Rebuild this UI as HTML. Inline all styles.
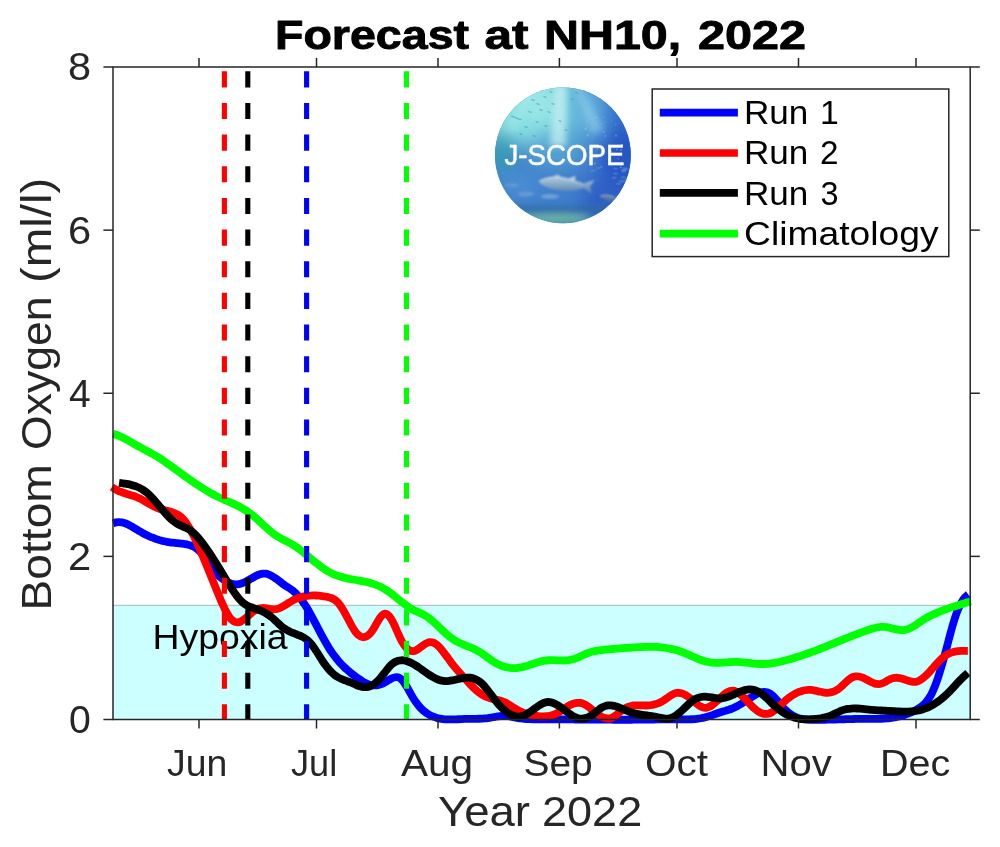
<!DOCTYPE html>
<html><head><meta charset="utf-8"><title>Forecast at NH10, 2022</title>
<style>html,body{margin:0;padding:0;background:#fff;}body{width:1000px;height:847px;overflow:hidden;font-family:"Liberation Sans",sans-serif;}svg{display:block;will-change:transform;}text{font-family:"Liberation Sans",sans-serif;}</style>
</head><body>
<svg width="1000" height="847" viewBox="0 0 1000 847">
<defs><filter id="idf" filterUnits="userSpaceOnUse" x="0" y="0" width="1000" height="847"><feOffset dx="0" dy="0"/></filter></defs>
<g filter="url(#idf)">
<rect x="0" y="0" width="1000" height="847" fill="#ffffff"/>
<rect x="113.00" y="605.31" width="857.20" height="114.19" fill="#ccffff"/>
<line x1="113.00" y1="605.31" x2="970.20" y2="605.31" stroke="#a2baba" stroke-width="1.0"/>
<text x="152.50" y="649.00" font-size="35.00" fill="#000" textLength="135.07" lengthAdjust="spacingAndGlyphs">Hypoxia</text>
<path d="M113.01 523.27 C113.51 523.12 115.01 522.52 116.01 522.33 C117.01 522.13 118.01 522.06 119.01 522.08 C120.01 522.10 121.01 522.24 122.01 522.44 C123.01 522.64 124.01 522.95 125.01 523.30 C126.01 523.65 127.01 524.08 128.01 524.55 C129.01 525.02 130.01 525.55 131.01 526.10 C132.01 526.65 133.01 527.25 134.01 527.84 C135.01 528.44 136.01 529.07 137.01 529.68 C138.01 530.28 139.01 530.91 140.01 531.49 C141.01 532.08 142.01 532.66 143.01 533.20 C144.01 533.75 145.01 534.27 146.01 534.77 C147.01 535.26 148.01 535.74 149.01 536.19 C150.01 536.63 151.01 537.06 152.01 537.46 C153.01 537.87 154.01 538.25 155.01 538.60 C156.01 538.96 157.01 539.29 158.01 539.61 C159.01 539.92 160.01 540.21 161.01 540.48 C162.01 540.75 163.01 541.00 164.01 541.22 C165.01 541.45 166.01 541.66 167.01 541.84 C168.01 542.03 169.01 542.19 170.01 542.34 C171.01 542.49 172.01 542.61 173.01 542.73 C174.01 542.85 175.01 542.95 176.01 543.06 C177.01 543.17 178.01 543.26 179.01 543.37 C180.01 543.48 181.01 543.59 182.01 543.71 C183.01 543.84 184.01 543.97 185.01 544.13 C186.01 544.29 187.01 544.44 188.01 544.68 C189.01 544.91 190.01 545.16 191.01 545.53 C192.01 545.89 193.01 546.30 194.01 546.85 C195.01 547.40 196.01 548.04 197.01 548.84 C198.01 549.63 199.01 550.56 200.01 551.63 C201.01 552.69 202.01 553.89 203.01 555.22 C204.01 556.54 205.01 558.06 206.01 559.57 C207.01 561.08 208.01 562.78 209.01 564.26 C210.01 565.74 211.01 567.15 212.01 568.45 C213.01 569.75 214.01 570.94 215.01 572.05 C216.01 573.16 217.01 574.17 218.01 575.12 C219.01 576.07 220.01 576.94 221.01 577.75 C222.01 578.57 223.01 579.33 224.01 580.01 C225.01 580.69 226.01 581.32 227.01 581.86 C228.01 582.39 229.01 582.86 230.01 583.24 C231.01 583.61 232.01 583.91 233.01 584.11 C234.01 584.30 235.01 584.41 236.01 584.41 C237.01 584.41 238.01 584.30 239.01 584.11 C240.01 583.91 241.01 583.61 242.01 583.25 C243.01 582.90 244.01 582.45 245.01 581.98 C246.01 581.51 247.01 580.96 248.01 580.41 C249.01 579.87 250.01 579.26 251.01 578.69 C252.01 578.12 253.01 577.51 254.01 576.97 C255.01 576.42 256.01 575.88 257.01 575.43 C258.01 574.97 259.01 574.55 260.01 574.25 C261.01 573.95 262.01 573.70 263.01 573.61 C264.01 573.52 265.01 573.54 266.01 573.69 C267.01 573.85 268.01 574.16 269.01 574.55 C270.01 574.93 271.01 575.45 272.01 576.02 C273.01 576.58 274.01 577.25 275.01 577.94 C276.01 578.62 277.01 579.39 278.01 580.14 C279.01 580.89 280.01 581.70 281.01 582.46 C282.01 583.22 283.01 583.99 284.01 584.70 C285.01 585.41 286.01 586.06 287.01 586.72 C288.01 587.38 289.01 587.96 290.01 588.65 C291.01 589.33 292.01 590.01 293.01 590.82 C294.01 591.63 295.01 592.53 296.01 593.52 C297.01 594.52 298.01 595.61 299.01 596.79 C300.01 597.97 301.01 599.25 302.01 600.62 C303.01 601.98 304.01 603.44 305.01 604.98 C306.01 606.52 307.01 608.16 308.01 609.85 C309.01 611.54 310.01 613.32 311.01 615.12 C312.01 616.92 313.01 618.79 314.01 620.66 C315.01 622.54 316.01 624.45 317.01 626.35 C318.01 628.25 319.01 630.18 320.01 632.06 C321.01 633.95 322.01 635.84 323.01 637.67 C324.01 639.50 325.01 641.31 326.01 643.04 C327.01 644.77 328.01 646.46 329.01 648.06 C330.01 649.65 331.01 651.17 332.01 652.62 C333.01 654.06 334.01 655.43 335.01 656.73 C336.01 658.04 337.01 659.27 338.01 660.45 C339.01 661.64 340.01 662.75 341.01 663.82 C342.01 664.89 343.01 665.90 344.01 666.87 C345.01 667.85 346.01 668.77 347.01 669.66 C348.01 670.55 349.01 671.39 350.01 672.22 C351.01 673.04 352.01 673.82 353.01 674.59 C354.01 675.36 355.01 676.10 356.01 676.83 C357.01 677.55 358.01 678.27 359.01 678.96 C360.01 679.64 361.01 680.32 362.01 680.94 C363.01 681.56 364.01 682.16 365.01 682.68 C366.01 683.20 367.01 683.68 368.01 684.07 C369.01 684.46 370.01 684.80 371.01 685.02 C372.01 685.25 373.01 685.40 374.01 685.44 C375.01 685.48 376.01 685.41 377.01 685.27 C378.01 685.12 379.01 684.88 380.01 684.57 C381.01 684.25 382.01 683.84 383.01 683.38 C384.01 682.91 385.01 682.33 386.01 681.76 C387.01 681.18 388.01 680.49 389.01 679.90 C390.01 679.32 391.01 678.69 392.01 678.25 C393.01 677.80 394.01 677.39 395.01 677.24 C396.01 677.08 397.01 677.03 398.01 677.32 C399.01 677.60 400.01 678.10 401.01 678.95 C402.01 679.79 403.01 681.02 404.01 682.38 C405.01 683.74 406.01 685.43 407.01 687.11 C408.01 688.79 409.01 690.68 410.01 692.44 C411.01 694.21 412.01 696.05 413.01 697.69 C414.01 699.32 415.01 700.86 416.01 702.27 C417.01 703.67 418.01 704.95 419.01 706.13 C420.01 707.31 421.01 708.36 422.01 709.33 C423.01 710.31 424.01 711.17 425.01 711.95 C426.01 712.74 427.01 713.43 428.01 714.05 C429.01 714.68 430.01 715.21 431.01 715.70 C432.01 716.18 433.01 716.59 434.01 716.96 C435.01 717.32 436.01 717.63 437.01 717.90 C438.01 718.17 439.01 718.39 440.01 718.58 C441.01 718.77 442.01 718.92 443.01 719.04 C444.01 719.16 445.01 719.25 446.01 719.31 C447.01 719.38 448.01 719.42 449.01 719.44 C450.01 719.46 451.01 719.46 452.01 719.44 C453.01 719.43 454.01 719.40 455.01 719.37 C456.01 719.33 457.01 719.28 458.01 719.24 C459.01 719.19 460.01 719.14 461.01 719.09 C462.01 719.05 463.01 719.00 464.01 718.97 C465.01 718.93 466.01 718.91 467.01 718.89 C468.01 718.87 469.01 718.86 470.01 718.85 C471.01 718.84 472.01 718.84 473.01 718.83 C474.01 718.82 475.01 718.82 476.01 718.80 C477.01 718.79 478.01 718.77 479.01 718.74 C480.01 718.71 481.01 718.67 482.01 718.62 C483.01 718.56 484.01 718.49 485.01 718.40 C486.01 718.31 487.01 718.20 488.01 718.07 C489.01 717.94 490.01 717.77 491.01 717.60 C492.01 717.43 493.01 717.23 494.01 717.05 C495.01 716.86 496.01 716.67 497.01 716.50 C498.01 716.34 499.01 716.17 500.01 716.06 C501.01 715.95 502.01 715.85 503.01 715.83 C504.01 715.80 505.01 715.82 506.01 715.89 C507.01 715.96 508.01 716.10 509.01 716.26 C510.01 716.42 511.01 716.63 512.01 716.83 C513.01 717.03 514.01 717.26 515.01 717.46 C516.01 717.66 517.01 717.87 518.01 718.04 C519.01 718.21 520.01 718.36 521.01 718.49 C522.01 718.61 523.01 718.72 524.01 718.81 C525.01 718.91 526.01 718.98 527.01 719.04 C528.01 719.10 529.01 719.15 530.01 719.19 C531.01 719.22 532.01 719.25 533.01 719.27 C534.01 719.29 535.01 719.30 536.01 719.30 C537.01 719.31 538.01 719.31 539.01 719.31 C540.01 719.31 541.01 719.31 542.01 719.31 C543.01 719.31 544.01 719.31 545.01 719.31 C546.01 719.32 547.01 719.32 548.01 719.32 C549.01 719.32 550.01 719.33 551.01 719.33 C552.01 719.33 553.01 719.34 554.01 719.34 C555.01 719.35 556.01 719.35 557.01 719.36 C558.01 719.36 559.01 719.37 560.01 719.37 C561.01 719.38 562.01 719.38 563.01 719.39 C564.01 719.40 565.01 719.40 566.01 719.41 C567.01 719.42 568.01 719.42 569.01 719.43 C570.01 719.44 571.01 719.45 572.01 719.45 C573.01 719.46 574.01 719.47 575.01 719.48 C576.01 719.48 577.01 719.49 578.01 719.50 C579.01 719.51 580.01 719.52 581.01 719.52 C582.01 719.53 583.01 719.54 584.01 719.55 C585.01 719.56 586.01 719.56 587.01 719.57 C588.01 719.58 589.01 719.59 590.01 719.60 C591.01 719.60 592.01 719.61 593.01 719.62 C594.01 719.63 595.01 719.63 596.01 719.64 C597.01 719.65 598.01 719.65 599.01 719.66 C600.01 719.67 601.01 719.67 602.01 719.68 C603.01 719.69 604.01 719.69 605.01 719.70 C606.01 719.70 607.01 719.71 608.01 719.71 C609.01 719.72 610.01 719.72 611.01 719.72 C612.01 719.73 613.01 719.73 614.01 719.73 C615.01 719.74 616.01 719.74 617.01 719.74 C618.01 719.74 619.01 719.74 620.01 719.75 C621.01 719.75 622.01 719.75 623.01 719.75 C624.01 719.75 625.01 719.74 626.01 719.74 C627.01 719.74 628.01 719.74 629.01 719.74 C630.01 719.73 631.01 719.73 632.01 719.73 C633.01 719.72 634.01 719.72 635.01 719.71 C636.01 719.70 637.01 719.70 638.01 719.69 C639.01 719.68 640.01 719.67 641.01 719.66 C642.01 719.65 643.01 719.64 644.01 719.63 C645.01 719.62 646.01 719.61 647.01 719.60 C648.01 719.58 649.01 719.57 650.01 719.56 C651.01 719.54 652.01 719.52 653.01 719.51 C654.01 719.49 655.01 719.48 656.01 719.46 C657.01 719.44 658.01 719.43 659.01 719.41 C660.01 719.40 661.01 719.38 662.01 719.37 C663.01 719.35 664.01 719.34 665.01 719.33 C666.01 719.32 667.01 719.31 668.01 719.30 C669.01 719.29 670.01 719.29 671.01 719.29 C672.01 719.28 673.01 719.28 674.01 719.28 C675.01 719.29 676.01 719.29 677.01 719.30 C678.01 719.31 679.01 719.33 680.01 719.34 C681.01 719.35 682.01 719.36 683.01 719.37 C684.01 719.38 685.01 719.38 686.01 719.38 C687.01 719.37 688.01 719.36 689.01 719.34 C690.01 719.31 691.01 719.28 692.01 719.23 C693.01 719.18 694.01 719.11 695.01 719.03 C696.01 718.94 697.01 718.84 698.01 718.71 C699.01 718.58 700.01 718.43 701.01 718.25 C702.01 718.07 703.01 717.87 704.01 717.63 C705.01 717.39 706.01 717.12 707.01 716.83 C708.01 716.54 709.01 716.21 710.01 715.88 C711.01 715.55 712.01 715.19 713.01 714.84 C714.01 714.48 715.01 714.12 716.01 713.76 C717.01 713.41 718.01 713.05 719.01 712.72 C720.01 712.38 721.01 712.06 722.01 711.76 C723.01 711.45 724.01 711.18 725.01 710.88 C726.01 710.59 727.01 710.31 728.01 709.99 C729.01 709.67 730.01 709.36 731.01 708.98 C732.01 708.60 733.01 708.20 734.01 707.74 C735.01 707.28 736.01 706.77 737.01 706.23 C738.01 705.69 739.01 705.10 740.01 704.50 C741.01 703.91 742.01 703.27 743.01 702.64 C744.01 702.00 745.01 701.35 746.01 700.70 C747.01 700.05 748.01 699.39 749.01 698.75 C750.01 698.11 751.01 697.47 752.01 696.86 C753.01 696.25 754.01 695.65 755.01 695.10 C756.01 694.55 757.01 694.00 758.01 693.54 C759.01 693.08 760.01 692.63 761.01 692.33 C762.01 692.04 763.01 691.81 764.01 691.79 C765.01 691.77 766.01 691.90 767.01 692.20 C768.01 692.51 769.01 693.00 770.01 693.62 C771.01 694.25 772.01 695.05 773.01 695.95 C774.01 696.85 775.01 697.93 776.01 699.03 C777.01 700.13 778.01 701.37 779.01 702.56 C780.01 703.75 781.01 705.02 782.01 706.18 C783.01 707.34 784.01 708.50 785.01 709.52 C786.01 710.54 787.01 711.47 788.01 712.31 C789.01 713.15 790.01 713.88 791.01 714.54 C792.01 715.19 793.01 715.76 794.01 716.26 C795.01 716.77 796.01 717.19 797.01 717.56 C798.01 717.92 799.01 718.22 800.01 718.48 C801.01 718.73 802.01 718.93 803.01 719.09 C804.01 719.26 805.01 719.37 806.01 719.47 C807.01 719.57 808.01 719.62 809.01 719.67 C810.01 719.72 811.01 719.74 812.01 719.76 C813.01 719.78 814.01 719.78 815.01 719.79 C816.01 719.80 817.01 719.80 818.01 719.80 C819.01 719.80 820.01 719.79 821.01 719.79 C822.01 719.78 823.01 719.77 824.01 719.76 C825.01 719.74 826.01 719.73 827.01 719.71 C828.01 719.69 829.01 719.67 830.01 719.64 C831.01 719.62 832.01 719.60 833.01 719.57 C834.01 719.55 835.01 719.52 836.01 719.49 C837.01 719.46 838.01 719.43 839.01 719.40 C840.01 719.37 841.01 719.34 842.01 719.32 C843.01 719.29 844.01 719.26 845.01 719.23 C846.01 719.20 847.01 719.17 848.01 719.14 C849.01 719.11 850.01 719.09 851.01 719.06 C852.01 719.04 853.01 719.01 854.01 718.99 C855.01 718.97 856.01 718.95 857.01 718.93 C858.01 718.91 859.01 718.90 860.01 718.88 C861.01 718.87 862.01 718.86 863.01 718.86 C864.01 718.85 865.01 718.85 866.01 718.85 C867.01 718.85 868.01 718.85 869.01 718.86 C870.01 718.86 871.01 718.86 872.01 718.86 C873.01 718.86 874.01 718.86 875.01 718.86 C876.01 718.85 877.01 718.84 878.01 718.82 C879.01 718.80 880.01 718.78 881.01 718.74 C882.01 718.71 883.01 718.66 884.01 718.60 C885.01 718.54 886.01 718.47 887.01 718.38 C888.01 718.30 889.01 718.20 890.01 718.08 C891.01 717.96 892.01 717.82 893.01 717.66 C894.01 717.50 895.01 717.33 896.01 717.13 C897.01 716.93 898.01 716.71 899.01 716.46 C900.01 716.22 901.01 715.95 902.01 715.66 C903.01 715.37 904.01 715.05 905.01 714.71 C906.01 714.37 907.01 714.01 908.01 713.62 C909.01 713.22 910.01 712.81 911.01 712.36 C912.01 711.91 913.01 711.44 914.01 710.94 C915.01 710.43 916.01 709.91 917.01 709.34 C918.01 708.77 919.01 708.20 920.01 707.52 C921.01 706.83 922.01 706.12 923.01 705.24 C924.01 704.35 925.01 703.40 926.01 702.22 C927.01 701.05 928.01 699.76 929.01 698.20 C930.01 696.65 931.01 694.92 932.01 692.90 C933.01 690.87 934.01 688.58 935.01 686.06 C936.01 683.53 937.01 680.72 938.01 677.74 C939.01 674.76 940.01 671.53 941.01 668.19 C942.01 664.84 943.01 661.29 944.01 657.66 C945.01 654.04 946.01 650.21 947.01 646.44 C948.01 642.67 949.01 638.76 950.01 635.06 C951.01 631.36 952.01 627.63 953.01 624.23 C954.01 620.84 955.01 617.54 956.01 614.68 C957.01 611.82 958.01 609.28 959.01 607.07 C960.01 604.86 961.01 603.05 962.01 601.44 C963.01 599.83 964.01 598.54 965.01 597.41 C966.01 596.27 967.47 595.11 968.01 594.61 C968.55 594.12 968.21 594.46 968.25 594.43" fill="none" stroke="#0000ff" stroke-width="7.8" stroke-linejoin="round" stroke-linecap="butt"/>
<path d="M112.01 487.03 C112.51 487.37 114.01 488.43 115.01 489.04 C116.01 489.64 117.01 490.16 118.01 490.65 C119.01 491.14 120.01 491.56 121.01 491.96 C122.01 492.36 123.01 492.71 124.01 493.05 C125.01 493.39 126.01 493.69 127.01 494.00 C128.01 494.31 129.01 494.59 130.01 494.89 C131.01 495.20 132.01 495.49 133.01 495.82 C134.01 496.14 135.01 496.47 136.01 496.85 C137.01 497.23 138.01 497.63 139.01 498.08 C140.01 498.53 141.01 499.04 142.01 499.58 C143.01 500.11 144.01 500.70 145.01 501.29 C146.01 501.88 147.01 502.51 148.01 503.11 C149.01 503.71 150.01 504.33 151.01 504.90 C152.01 505.47 153.01 506.04 154.01 506.54 C155.01 507.04 156.01 507.51 157.01 507.91 C158.01 508.32 159.01 508.66 160.01 508.97 C161.01 509.29 162.01 509.56 163.01 509.82 C164.01 510.08 165.01 510.30 166.01 510.54 C167.01 510.78 168.01 511.00 169.01 511.26 C170.01 511.51 171.01 511.76 172.01 512.09 C173.01 512.41 174.01 512.76 175.01 513.21 C176.01 513.66 177.01 514.16 178.01 514.80 C179.01 515.43 180.01 516.15 181.01 517.03 C182.01 517.91 183.01 518.91 184.01 520.09 C185.01 521.26 186.01 522.61 187.01 524.09 C188.01 525.57 189.01 527.21 190.01 528.95 C191.01 530.69 192.01 532.58 193.01 534.53 C194.01 536.49 195.01 538.57 196.01 540.69 C197.01 542.82 198.01 545.04 199.01 547.29 C200.01 549.55 201.01 551.88 202.01 554.24 C203.01 556.60 204.01 559.01 205.01 561.44 C206.01 563.86 207.01 566.33 208.01 568.80 C209.01 571.26 210.01 573.75 211.01 576.23 C212.01 578.71 213.01 581.20 214.01 583.66 C215.01 586.13 216.01 588.59 217.01 591.02 C218.01 593.45 219.01 595.88 220.01 598.23 C221.01 600.59 222.01 602.97 223.01 605.16 C224.01 607.35 225.01 609.51 226.01 611.39 C227.01 613.26 228.01 614.99 229.01 616.42 C230.01 617.85 231.01 619.03 232.01 619.95 C233.01 620.87 234.01 621.53 235.01 621.92 C236.01 622.32 237.01 622.41 238.01 622.33 C239.01 622.24 240.01 621.86 241.01 621.39 C242.01 620.91 243.01 620.22 244.01 619.48 C245.01 618.75 246.01 617.86 247.01 616.99 C248.01 616.13 249.01 615.17 250.01 614.30 C251.01 613.43 252.01 612.52 253.01 611.76 C254.01 611.00 255.01 610.28 256.01 609.74 C257.01 609.20 258.01 608.81 259.01 608.52 C260.01 608.24 261.01 608.10 262.01 608.03 C263.01 607.97 264.01 608.04 265.01 608.13 C266.01 608.23 267.01 608.44 268.01 608.60 C269.01 608.77 270.01 609.00 271.01 609.13 C272.01 609.27 273.01 609.41 274.01 609.40 C275.01 609.39 276.01 609.30 277.01 609.07 C278.01 608.84 279.01 608.46 280.01 608.03 C281.01 607.60 282.01 607.04 283.01 606.47 C284.01 605.90 285.01 605.24 286.01 604.61 C287.01 603.97 288.01 603.28 289.01 602.65 C290.01 602.02 291.01 601.38 292.01 600.82 C293.01 600.26 294.01 599.75 295.01 599.29 C296.01 598.83 297.01 598.42 298.01 598.06 C299.01 597.70 300.01 597.38 301.01 597.11 C302.01 596.83 303.01 596.59 304.01 596.39 C305.01 596.19 306.01 596.02 307.01 595.88 C308.01 595.75 309.01 595.64 310.01 595.57 C311.01 595.49 312.01 595.45 313.01 595.44 C314.01 595.42 315.01 595.44 316.01 595.48 C317.01 595.52 318.01 595.59 319.01 595.68 C320.01 595.78 321.01 595.89 322.01 596.04 C323.01 596.18 324.01 596.34 325.01 596.53 C326.01 596.72 327.01 596.92 328.01 597.16 C329.01 597.40 330.01 597.61 331.01 597.97 C332.01 598.34 333.01 598.72 334.01 599.34 C335.01 599.95 336.01 600.70 337.01 601.67 C338.01 602.64 339.01 603.84 340.01 605.17 C341.01 606.51 342.01 608.05 343.01 609.70 C344.01 611.34 345.01 613.20 346.01 615.05 C347.01 616.90 348.01 618.91 349.01 620.80 C350.01 622.68 351.01 624.64 352.01 626.37 C353.01 628.10 354.01 629.80 355.01 631.19 C356.01 632.59 357.01 633.80 358.01 634.72 C359.01 635.65 360.01 636.32 361.01 636.74 C362.01 637.15 363.01 637.32 364.01 637.23 C365.01 637.14 366.01 636.80 367.01 636.21 C368.01 635.62 369.01 634.77 370.01 633.67 C371.01 632.57 372.01 631.14 373.01 629.61 C374.01 628.08 375.01 626.19 376.01 624.48 C377.01 622.77 378.01 620.87 379.01 619.35 C380.01 617.84 381.01 616.32 382.01 615.39 C383.01 614.45 384.01 613.80 385.01 613.72 C386.01 613.64 387.01 614.10 388.01 614.91 C389.01 615.71 390.01 617.02 391.01 618.57 C392.01 620.13 393.01 622.17 394.01 624.24 C395.01 626.32 396.01 628.77 397.01 631.01 C398.01 633.24 399.01 635.63 400.01 637.67 C401.01 639.71 402.01 641.61 403.01 643.23 C404.01 644.85 405.01 646.26 406.01 647.40 C407.01 648.54 408.01 649.45 409.01 650.09 C410.01 650.72 411.01 651.08 412.01 651.19 C413.01 651.29 414.01 651.06 415.01 650.72 C416.01 650.37 417.01 649.74 418.01 649.11 C419.01 648.48 420.01 647.66 421.01 646.93 C422.01 646.19 423.01 645.37 424.01 644.71 C425.01 644.05 426.01 643.41 427.01 642.98 C428.01 642.55 429.01 642.20 430.01 642.12 C431.01 642.03 432.01 642.13 433.01 642.46 C434.01 642.79 435.01 643.39 436.01 644.10 C437.01 644.82 438.01 645.75 439.01 646.76 C440.01 647.76 441.01 648.94 442.01 650.15 C443.01 651.37 444.01 652.71 445.01 654.05 C446.01 655.38 447.01 656.80 448.01 658.18 C449.01 659.55 450.01 660.96 451.01 662.29 C452.01 663.62 453.01 664.92 454.01 666.16 C455.01 667.40 456.01 668.58 457.01 669.74 C458.01 670.90 459.01 672.02 460.01 673.13 C461.01 674.25 462.01 675.33 463.01 676.43 C464.01 677.53 465.01 678.64 466.01 679.73 C467.01 680.83 468.01 681.94 469.01 683.01 C470.01 684.08 471.01 685.15 472.01 686.16 C473.01 687.17 474.01 688.16 475.01 689.08 C476.01 690.01 477.01 690.88 478.01 691.69 C479.01 692.50 480.01 693.25 481.01 693.93 C482.01 694.62 483.01 695.24 484.01 695.79 C485.01 696.35 486.01 696.83 487.01 697.25 C488.01 697.67 489.01 698.00 490.01 698.30 C491.01 698.60 492.01 698.81 493.01 699.04 C494.01 699.26 495.01 699.43 496.01 699.64 C497.01 699.85 498.01 700.04 499.01 700.28 C500.01 700.53 501.01 700.79 502.01 701.14 C503.01 701.49 504.01 701.90 505.01 702.38 C506.01 702.86 507.01 703.44 508.01 704.04 C509.01 704.63 510.01 705.30 511.01 705.94 C512.01 706.58 513.01 707.27 514.01 707.89 C515.01 708.52 516.01 709.15 517.01 709.71 C518.01 710.27 519.01 710.79 520.01 711.27 C521.01 711.75 522.01 712.18 523.01 712.58 C524.01 712.98 525.01 713.34 526.01 713.66 C527.01 713.99 528.01 714.28 529.01 714.54 C530.01 714.80 531.01 715.02 532.01 715.22 C533.01 715.41 534.01 715.58 535.01 715.72 C536.01 715.86 537.01 715.98 538.01 716.07 C539.01 716.16 540.01 716.23 541.01 716.28 C542.01 716.32 543.01 716.35 544.01 716.33 C545.01 716.31 546.01 716.27 547.01 716.16 C548.01 716.06 549.01 715.92 550.01 715.72 C551.01 715.51 552.01 715.25 553.01 714.92 C554.01 714.58 555.01 714.18 556.01 713.70 C557.01 713.22 558.01 712.65 559.01 712.05 C560.01 711.45 561.01 710.77 562.01 710.11 C563.01 709.45 564.01 708.75 565.01 708.10 C566.01 707.45 567.01 706.79 568.01 706.22 C569.01 705.64 570.01 705.10 571.01 704.65 C572.01 704.20 573.01 703.80 574.01 703.51 C575.01 703.21 576.01 702.99 577.01 702.89 C578.01 702.78 579.01 702.76 580.01 702.88 C581.01 702.99 582.01 703.21 583.01 703.57 C584.01 703.93 585.01 704.45 586.01 705.05 C587.01 705.64 588.01 706.39 589.01 707.16 C590.01 707.92 591.01 708.79 592.01 709.62 C593.01 710.45 594.01 711.34 595.01 712.15 C596.01 712.96 597.01 713.77 598.01 714.47 C599.01 715.18 600.01 715.84 601.01 716.39 C602.01 716.94 603.01 717.42 604.01 717.76 C605.01 718.10 606.01 718.35 607.01 718.45 C608.01 718.54 609.01 718.51 610.01 718.31 C611.01 718.10 612.01 717.72 613.01 717.21 C614.01 716.70 615.01 715.97 616.01 715.23 C617.01 714.50 618.01 713.61 619.01 712.79 C620.01 711.97 621.01 711.07 622.01 710.31 C623.01 709.56 624.01 708.83 625.01 708.25 C626.01 707.67 627.01 707.20 628.01 706.82 C629.01 706.43 630.01 706.16 631.01 705.94 C632.01 705.71 633.01 705.58 634.01 705.48 C635.01 705.38 636.01 705.35 637.01 705.33 C638.01 705.31 639.01 705.34 640.01 705.36 C641.01 705.38 642.01 705.43 643.01 705.46 C644.01 705.48 645.01 705.51 646.01 705.50 C647.01 705.48 648.01 705.45 649.01 705.37 C650.01 705.28 651.01 705.15 652.01 704.97 C653.01 704.79 654.01 704.57 655.01 704.28 C656.01 704.00 657.01 703.67 658.01 703.28 C659.01 702.88 660.01 702.44 661.01 701.92 C662.01 701.41 663.01 700.83 664.01 700.19 C665.01 699.56 666.01 698.82 667.01 698.13 C668.01 697.43 669.01 696.67 670.01 696.01 C671.01 695.35 672.01 694.69 673.01 694.19 C674.01 693.70 675.01 693.26 676.01 693.03 C677.01 692.79 678.01 692.72 679.01 692.78 C680.01 692.84 681.01 693.07 682.01 693.39 C683.01 693.71 684.01 694.17 685.01 694.71 C686.01 695.24 687.01 695.89 688.01 696.59 C689.01 697.29 690.01 698.09 691.01 698.90 C692.01 699.72 693.01 700.62 694.01 701.48 C695.01 702.33 696.01 703.25 697.01 704.03 C698.01 704.81 699.01 705.59 700.01 706.18 C701.01 706.77 702.01 707.28 703.01 707.55 C704.01 707.82 705.01 707.90 706.01 707.80 C707.01 707.69 708.01 707.36 709.01 706.93 C710.01 706.50 711.01 705.88 712.01 705.19 C713.01 704.51 714.01 703.69 715.01 702.84 C716.01 702.00 717.01 701.05 718.01 700.13 C719.01 699.20 720.01 698.21 721.01 697.29 C722.01 696.38 723.01 695.43 724.01 694.62 C725.01 693.80 726.01 693.02 727.01 692.41 C728.01 691.80 729.01 691.27 730.01 690.97 C731.01 690.68 732.01 690.54 733.01 690.62 C734.01 690.70 735.01 691.02 736.01 691.46 C737.01 691.90 738.01 692.54 739.01 693.26 C740.01 693.98 741.01 694.86 742.01 695.78 C743.01 696.70 744.01 697.74 745.01 698.78 C746.01 699.82 747.01 700.94 748.01 702.02 C749.01 703.09 750.01 704.21 751.01 705.24 C752.01 706.27 753.01 707.31 754.01 708.21 C755.01 709.12 756.01 709.97 757.01 710.68 C758.01 711.40 759.01 712.01 760.01 712.49 C761.01 712.98 762.01 713.35 763.01 713.59 C764.01 713.83 765.01 713.96 766.01 713.94 C767.01 713.93 768.01 713.80 769.01 713.52 C770.01 713.24 771.01 712.83 772.01 712.28 C773.01 711.74 774.01 711.02 775.01 710.25 C776.01 709.48 777.01 708.57 778.01 707.65 C779.01 706.74 780.01 705.74 781.01 704.78 C782.01 703.82 783.01 702.83 784.01 701.92 C785.01 701.00 786.01 700.12 787.01 699.30 C788.01 698.47 789.01 697.70 790.01 696.98 C791.01 696.26 792.01 695.59 793.01 694.98 C794.01 694.36 795.01 693.80 796.01 693.29 C797.01 692.78 798.01 692.33 799.01 691.94 C800.01 691.54 801.01 691.20 802.01 690.92 C803.01 690.64 804.01 690.41 805.01 690.25 C806.01 690.08 807.01 689.97 808.01 689.93 C809.01 689.88 810.01 689.89 811.01 689.97 C812.01 690.04 813.01 690.19 814.01 690.36 C815.01 690.53 816.01 690.77 817.01 691.00 C818.01 691.23 819.01 691.50 820.01 691.73 C821.01 691.96 822.01 692.20 823.01 692.37 C824.01 692.54 825.01 692.70 826.01 692.75 C827.01 692.81 828.01 692.81 829.01 692.71 C830.01 692.60 831.01 692.41 832.01 692.12 C833.01 691.83 834.01 691.45 835.01 690.96 C836.01 690.48 837.01 689.90 838.01 689.22 C839.01 688.53 840.01 687.72 841.01 686.86 C842.01 686.00 843.01 684.99 844.01 684.04 C845.01 683.09 846.01 682.06 847.01 681.17 C848.01 680.28 849.01 679.37 850.01 678.68 C851.01 677.99 852.01 677.39 853.01 677.00 C854.01 676.61 855.01 676.41 856.01 676.33 C857.01 676.25 858.01 676.35 859.01 676.52 C860.01 676.69 861.01 677.01 862.01 677.37 C863.01 677.73 864.01 678.21 865.01 678.70 C866.01 679.19 867.01 679.76 868.01 680.29 C869.01 680.82 870.01 681.39 871.01 681.88 C872.01 682.36 873.01 682.85 874.01 683.20 C875.01 683.55 876.01 683.86 877.01 683.99 C878.01 684.12 879.01 684.14 880.01 683.98 C881.01 683.82 882.01 683.44 883.01 683.02 C884.01 682.60 885.01 682.01 886.01 681.47 C887.01 680.93 888.01 680.29 889.01 679.78 C890.01 679.28 891.01 678.77 892.01 678.43 C893.01 678.10 894.01 677.90 895.01 677.79 C896.01 677.69 897.01 677.72 898.01 677.81 C899.01 677.90 900.01 678.10 901.01 678.33 C902.01 678.57 903.01 678.90 904.01 679.23 C905.01 679.56 906.01 679.97 907.01 680.31 C908.01 680.66 909.01 681.04 910.01 681.31 C911.01 681.58 912.01 681.83 913.01 681.92 C914.01 682.00 915.01 682.01 916.01 681.83 C917.01 681.64 918.01 681.29 919.01 680.81 C920.01 680.33 921.01 679.69 922.01 678.96 C923.01 678.23 924.01 677.37 925.01 676.46 C926.01 675.54 927.01 674.52 928.01 673.47 C929.01 672.42 930.01 671.29 931.01 670.17 C932.01 669.05 933.01 667.88 934.01 666.75 C935.01 665.61 936.01 664.46 937.01 663.36 C938.01 662.27 939.01 661.19 940.01 660.19 C941.01 659.20 942.01 658.25 943.01 657.42 C944.01 656.58 945.01 655.84 946.01 655.19 C947.01 654.54 948.01 654.00 949.01 653.53 C950.01 653.06 951.01 652.68 952.01 652.36 C953.01 652.04 954.01 651.80 955.01 651.60 C956.01 651.40 957.01 651.26 958.01 651.16 C959.01 651.05 960.01 651.00 961.01 650.96 C962.01 650.92 963.01 650.92 964.01 650.92 C965.01 650.93 966.36 650.96 967.01 650.97 C967.65 650.98 967.73 650.98 967.87 650.98" fill="none" stroke="#ff0000" stroke-width="7.8" stroke-linejoin="round" stroke-linecap="butt"/>
<path d="M119.04 482.81 C119.54 482.88 121.04 483.10 122.04 483.24 C123.04 483.39 124.04 483.53 125.04 483.69 C126.04 483.84 127.04 484.01 128.04 484.20 C129.04 484.39 130.04 484.60 131.04 484.84 C132.04 485.09 133.04 485.36 134.04 485.67 C135.04 485.99 136.04 486.34 137.04 486.75 C138.04 487.15 139.04 487.60 140.04 488.12 C141.04 488.64 142.04 489.21 143.04 489.85 C144.04 490.50 145.04 491.21 146.04 492.00 C147.04 492.80 148.04 493.68 149.04 494.62 C150.04 495.56 151.04 496.59 152.04 497.65 C153.04 498.71 154.04 499.84 155.04 500.98 C156.04 502.12 157.04 503.31 158.04 504.50 C159.04 505.68 160.04 506.89 161.04 508.08 C162.04 509.27 163.04 510.46 164.04 511.62 C165.04 512.77 166.04 513.91 167.04 514.99 C168.04 516.07 169.04 517.12 170.04 518.09 C171.04 519.06 172.04 519.98 173.04 520.79 C174.04 521.61 175.04 522.34 176.04 522.99 C177.04 523.64 178.04 524.17 179.04 524.69 C180.04 525.21 181.04 525.64 182.04 526.11 C183.04 526.57 184.04 526.98 185.04 527.47 C186.04 527.95 187.04 528.42 188.04 529.00 C189.04 529.57 190.04 530.19 191.04 530.92 C192.04 531.66 193.04 532.50 194.04 533.42 C195.04 534.35 196.04 535.37 197.04 536.46 C198.04 537.55 199.04 538.72 200.04 539.94 C201.04 541.16 202.04 542.46 203.04 543.78 C204.04 545.11 205.04 546.49 206.04 547.91 C207.04 549.32 208.04 550.78 209.04 552.26 C210.04 553.75 211.04 555.28 212.04 556.82 C213.04 558.37 214.04 559.95 215.04 561.54 C216.04 563.14 217.04 564.76 218.04 566.39 C219.04 568.01 220.04 569.66 221.04 571.31 C222.04 572.95 223.04 574.61 224.04 576.25 C225.04 577.90 226.04 579.55 227.04 581.18 C228.04 582.80 229.04 584.44 230.04 586.01 C231.04 587.59 232.04 589.16 233.04 590.64 C234.04 592.12 235.04 593.57 236.04 594.91 C237.04 596.25 238.04 597.54 239.04 598.69 C240.04 599.85 241.04 600.91 242.04 601.84 C243.04 602.76 244.04 603.55 245.04 604.23 C246.04 604.92 247.04 605.46 248.04 605.96 C249.04 606.46 250.04 606.84 251.04 607.23 C252.04 607.61 253.04 607.93 254.04 608.27 C255.04 608.61 256.04 608.93 257.04 609.29 C258.04 609.65 259.04 610.02 260.04 610.43 C261.04 610.83 262.04 611.26 263.04 611.75 C264.04 612.24 265.04 612.75 266.04 613.34 C267.04 613.93 268.04 614.56 269.04 615.28 C270.04 615.99 271.04 616.79 272.04 617.63 C273.04 618.48 274.04 619.43 275.04 620.36 C276.04 621.29 277.04 622.29 278.04 623.22 C279.04 624.15 280.04 625.10 281.04 625.95 C282.04 626.80 283.04 627.61 284.04 628.31 C285.04 629.02 286.04 629.62 287.04 630.18 C288.04 630.75 289.04 631.22 290.04 631.68 C291.04 632.14 292.04 632.54 293.04 632.95 C294.04 633.35 295.04 633.71 296.04 634.10 C297.04 634.50 298.04 634.87 299.04 635.29 C300.04 635.72 301.04 636.14 302.04 636.65 C303.04 637.17 304.04 637.71 305.04 638.38 C306.04 639.06 307.04 639.79 308.04 640.68 C309.04 641.58 310.04 642.58 311.04 643.76 C312.04 644.93 313.04 646.29 314.04 647.71 C315.04 649.13 316.04 650.71 317.04 652.27 C318.04 653.83 319.04 655.49 320.04 657.06 C321.04 658.64 322.04 660.24 323.04 661.72 C324.04 663.20 325.04 664.62 326.04 665.93 C327.04 667.25 328.04 668.48 329.04 669.61 C330.04 670.75 331.04 671.79 332.04 672.74 C333.04 673.68 334.04 674.53 335.04 675.28 C336.04 676.04 337.04 676.67 338.04 677.25 C339.04 677.84 340.04 678.32 341.04 678.78 C342.04 679.24 343.04 679.62 344.04 680.01 C345.04 680.40 346.04 680.73 347.04 681.10 C348.04 681.47 349.04 681.81 350.04 682.21 C351.04 682.61 352.04 683.04 353.04 683.47 C354.04 683.91 355.04 684.39 356.04 684.82 C357.04 685.24 358.04 685.68 359.04 686.03 C360.04 686.37 361.04 686.69 362.04 686.89 C363.04 687.08 364.04 687.20 365.04 687.20 C366.04 687.20 367.04 687.09 368.04 686.86 C369.04 686.64 370.04 686.30 371.04 685.85 C372.04 685.40 373.04 684.83 374.04 684.14 C375.04 683.45 376.04 682.64 377.04 681.70 C378.04 680.77 379.04 679.68 380.04 678.52 C381.04 677.36 382.04 676.03 383.04 674.74 C384.04 673.45 385.04 672.06 386.04 670.78 C387.04 669.50 388.04 668.19 389.04 667.08 C390.04 665.96 391.04 664.91 392.04 664.07 C393.04 663.22 394.04 662.54 395.04 661.98 C396.04 661.43 397.04 661.04 398.04 660.76 C399.04 660.47 400.04 660.33 401.04 660.28 C402.04 660.23 403.04 660.30 404.04 660.45 C405.04 660.60 406.04 660.86 407.04 661.17 C408.04 661.49 409.04 661.89 410.04 662.34 C411.04 662.79 412.04 663.31 413.04 663.86 C414.04 664.42 415.04 665.03 416.04 665.66 C417.04 666.29 418.04 666.97 419.04 667.65 C420.04 668.33 421.04 669.04 422.04 669.75 C423.04 670.45 424.04 671.17 425.04 671.87 C426.04 672.57 427.04 673.27 428.04 673.95 C429.04 674.62 430.04 675.28 431.04 675.89 C432.04 676.51 433.04 677.11 434.04 677.64 C435.04 678.18 436.04 678.68 437.04 679.11 C438.04 679.54 439.04 679.92 440.04 680.22 C441.04 680.52 442.04 680.76 443.04 680.90 C444.04 681.05 445.04 681.10 446.04 681.11 C447.04 681.11 448.04 681.02 449.04 680.91 C450.04 680.80 451.04 680.62 452.04 680.43 C453.04 680.23 454.04 680.00 455.04 679.77 C456.04 679.53 457.04 679.27 458.04 679.04 C459.04 678.81 460.04 678.56 461.04 678.36 C462.04 678.16 463.04 677.96 464.04 677.83 C465.04 677.70 466.04 677.60 467.04 677.58 C468.04 677.55 469.04 677.58 470.04 677.70 C471.04 677.82 472.04 678.01 473.04 678.30 C474.04 678.60 475.04 678.98 476.04 679.47 C477.04 679.96 478.04 680.55 479.04 681.26 C480.04 681.96 481.04 682.77 482.04 683.71 C483.04 684.65 484.04 685.73 485.04 686.87 C486.04 688.02 487.04 689.30 488.04 690.59 C489.04 691.88 490.04 693.27 491.04 694.61 C492.04 695.95 493.04 697.33 494.04 698.64 C495.04 699.94 496.04 701.23 497.04 702.43 C498.04 703.63 499.04 704.78 500.04 705.86 C501.04 706.93 502.04 707.95 503.04 708.88 C504.04 709.82 505.04 710.68 506.04 711.46 C507.04 712.24 508.04 712.95 509.04 713.56 C510.04 714.17 511.04 714.70 512.04 715.14 C513.04 715.57 514.04 715.91 515.04 716.16 C516.04 716.40 517.04 716.54 518.04 716.58 C519.04 716.61 520.04 716.55 521.04 716.37 C522.04 716.18 523.04 715.88 524.04 715.48 C525.04 715.08 526.04 714.55 527.04 713.97 C528.04 713.40 529.04 712.72 530.04 712.03 C531.04 711.34 532.04 710.58 533.04 709.84 C534.04 709.10 535.04 708.32 536.04 707.60 C537.04 706.87 538.04 706.14 539.04 705.50 C540.04 704.86 541.04 704.24 542.04 703.74 C543.04 703.24 544.04 702.80 545.04 702.51 C546.04 702.22 547.04 702.05 548.04 702.01 C549.04 701.98 550.04 702.10 551.04 702.31 C552.04 702.52 553.04 702.86 554.04 703.28 C555.04 703.69 556.04 704.22 557.04 704.79 C558.04 705.36 559.04 706.03 560.04 706.71 C561.04 707.40 562.04 708.15 563.04 708.90 C564.04 709.66 565.04 710.46 566.04 711.22 C567.04 711.99 568.04 712.78 569.04 713.49 C570.04 714.21 571.04 714.92 572.04 715.53 C573.04 716.14 574.04 716.70 575.04 717.14 C576.04 717.58 577.04 717.93 578.04 718.17 C579.04 718.42 580.04 718.56 581.04 718.60 C582.04 718.64 583.04 718.58 584.04 718.41 C585.04 718.25 586.04 717.99 587.04 717.62 C588.04 717.26 589.04 716.79 590.04 716.23 C591.04 715.66 592.04 714.97 593.04 714.24 C594.04 713.52 595.04 712.68 596.04 711.89 C597.04 711.10 598.04 710.26 599.04 709.52 C600.04 708.79 601.04 708.05 602.04 707.48 C603.04 706.91 604.04 706.44 605.04 706.11 C606.04 705.77 607.04 705.57 608.04 705.45 C609.04 705.34 610.04 705.34 611.04 705.41 C612.04 705.48 613.04 705.65 614.04 705.87 C615.04 706.09 616.04 706.38 617.04 706.71 C618.04 707.04 619.04 707.43 620.04 707.82 C621.04 708.22 622.04 708.66 623.04 709.09 C624.04 709.52 625.04 709.97 626.04 710.40 C627.04 710.82 628.04 711.25 629.04 711.64 C630.04 712.02 631.04 712.38 632.04 712.69 C633.04 713.00 634.04 713.26 635.04 713.50 C636.04 713.74 637.04 713.94 638.04 714.13 C639.04 714.31 640.04 714.47 641.04 714.61 C642.04 714.76 643.04 714.89 644.04 715.02 C645.04 715.14 646.04 715.26 647.04 715.38 C648.04 715.51 649.04 715.63 650.04 715.77 C651.04 715.91 652.04 716.06 653.04 716.23 C654.04 716.41 655.04 716.61 656.04 716.82 C657.04 717.03 658.04 717.29 659.04 717.51 C660.04 717.73 661.04 717.96 662.04 718.14 C663.04 718.31 664.04 718.48 665.04 718.56 C666.04 718.63 667.04 718.67 668.04 718.57 C669.04 718.48 670.04 718.30 671.04 717.99 C672.04 717.67 673.04 717.21 674.04 716.66 C675.04 716.11 676.04 715.42 677.04 714.69 C678.04 713.95 679.04 713.11 680.04 712.24 C681.04 711.38 682.04 710.43 683.04 709.49 C684.04 708.55 685.04 707.55 686.04 706.60 C687.04 705.65 688.04 704.67 689.04 703.78 C690.04 702.89 691.04 702.01 692.04 701.24 C693.04 700.48 694.04 699.77 695.04 699.20 C696.04 698.62 697.04 698.17 698.04 697.80 C699.04 697.44 700.04 697.19 701.04 697.01 C702.04 696.83 703.04 696.75 704.04 696.71 C705.04 696.67 706.04 696.72 707.04 696.79 C708.04 696.86 709.04 696.99 710.04 697.13 C711.04 697.26 712.04 697.44 713.04 697.60 C714.04 697.75 715.04 697.92 716.04 698.05 C717.04 698.17 718.04 698.29 719.04 698.33 C720.04 698.37 721.04 698.38 722.04 698.30 C723.04 698.21 724.04 698.05 725.04 697.82 C726.04 697.60 727.04 697.28 728.04 696.93 C729.04 696.58 730.04 696.17 731.04 695.74 C732.04 695.32 733.04 694.85 734.04 694.40 C735.04 693.94 736.04 693.46 737.04 693.01 C738.04 692.56 739.04 692.11 740.04 691.71 C741.04 691.31 742.04 690.92 743.04 690.60 C744.04 690.29 745.04 690.01 746.04 689.81 C747.04 689.62 748.04 689.49 749.04 689.45 C750.04 689.41 751.04 689.45 752.04 689.59 C753.04 689.72 754.04 689.94 755.04 690.26 C756.04 690.58 757.04 690.99 758.04 691.51 C759.04 692.03 760.04 692.67 761.04 693.38 C762.04 694.09 763.04 694.91 764.04 695.76 C765.04 696.62 766.04 697.56 767.04 698.50 C768.04 699.44 769.04 700.44 770.04 701.41 C771.04 702.38 772.04 703.38 773.04 704.32 C774.04 705.26 775.04 706.20 776.04 707.06 C777.04 707.93 778.04 708.75 779.04 709.53 C780.04 710.30 781.04 711.02 782.04 711.70 C783.04 712.37 784.04 713.00 785.04 713.58 C786.04 714.15 787.04 714.68 788.04 715.16 C789.04 715.64 790.04 716.07 791.04 716.45 C792.04 716.84 793.04 717.18 794.04 717.48 C795.04 717.78 796.04 718.03 797.04 718.25 C798.04 718.48 799.04 718.66 800.04 718.81 C801.04 718.96 802.04 719.07 803.04 719.16 C804.04 719.25 805.04 719.30 806.04 719.33 C807.04 719.36 808.04 719.37 809.04 719.35 C810.04 719.33 811.04 719.29 812.04 719.23 C813.04 719.17 814.04 719.09 815.04 719.00 C816.04 718.91 817.04 718.80 818.04 718.67 C819.04 718.54 820.04 718.39 821.04 718.22 C822.04 718.04 823.04 717.84 824.04 717.61 C825.04 717.38 826.04 717.12 827.04 716.82 C828.04 716.51 829.04 716.18 830.04 715.80 C831.04 715.42 832.04 714.99 833.04 714.54 C834.04 714.10 835.04 713.60 836.04 713.13 C837.04 712.65 838.04 712.16 839.04 711.71 C840.04 711.26 841.04 710.82 842.04 710.45 C843.04 710.08 844.04 709.75 845.04 709.49 C846.04 709.23 847.04 709.03 848.04 708.86 C849.04 708.70 850.04 708.60 851.04 708.52 C852.04 708.44 853.04 708.42 854.04 708.41 C855.04 708.40 856.04 708.43 857.04 708.48 C858.04 708.53 859.04 708.60 860.04 708.68 C861.04 708.76 862.04 708.87 863.04 708.97 C864.04 709.07 865.04 709.18 866.04 709.28 C867.04 709.38 868.04 709.49 869.04 709.58 C870.04 709.68 871.04 709.76 872.04 709.85 C873.04 709.93 874.04 710.01 875.04 710.09 C876.04 710.16 877.04 710.23 878.04 710.30 C879.04 710.37 880.04 710.43 881.04 710.50 C882.04 710.56 883.04 710.62 884.04 710.68 C885.04 710.73 886.04 710.79 887.04 710.84 C888.04 710.90 889.04 710.95 890.04 711.01 C891.04 711.06 892.04 711.11 893.04 711.16 C894.04 711.22 895.04 711.27 896.04 711.33 C897.04 711.38 898.04 711.43 899.04 711.48 C900.04 711.53 901.04 711.57 902.04 711.60 C903.04 711.64 904.04 711.66 905.04 711.67 C906.04 711.67 907.04 711.67 908.04 711.64 C909.04 711.62 910.04 711.58 911.04 711.51 C912.04 711.44 913.04 711.35 914.04 711.23 C915.04 711.10 916.04 710.96 917.04 710.78 C918.04 710.59 919.04 710.38 920.04 710.13 C921.04 709.88 922.04 709.59 923.04 709.27 C924.04 708.94 925.04 708.58 926.04 708.18 C927.04 707.78 928.04 707.34 929.04 706.87 C930.04 706.39 931.04 705.88 932.04 705.32 C933.04 704.77 934.04 704.18 935.04 703.54 C936.04 702.91 937.04 702.24 938.04 701.52 C939.04 700.81 940.04 700.05 941.04 699.25 C942.04 698.46 943.04 697.62 944.04 696.73 C945.04 695.85 946.04 694.93 947.04 693.96 C948.04 692.99 949.04 691.98 950.04 690.94 C951.04 689.91 952.04 688.83 953.04 687.76 C954.04 686.69 955.04 685.59 956.04 684.51 C957.04 683.43 958.04 682.34 959.04 681.28 C960.04 680.23 961.04 679.18 962.04 678.18 C963.04 677.18 964.06 676.18 965.04 675.30 C966.01 674.41 967.40 673.27 967.87 672.86" fill="none" stroke="#000000" stroke-width="7.8" stroke-linejoin="round" stroke-linecap="butt"/>
<path d="M113.01 433.72 C113.51 433.89 115.01 434.36 116.01 434.73 C117.01 435.09 118.01 435.50 119.01 435.93 C120.01 436.36 121.01 436.82 122.01 437.30 C123.01 437.78 124.01 438.28 125.01 438.80 C126.01 439.32 127.01 439.86 128.01 440.41 C129.01 440.95 130.01 441.52 131.01 442.08 C132.01 442.65 133.01 443.22 134.01 443.79 C135.01 444.37 136.01 444.94 137.01 445.51 C138.01 446.08 139.01 446.65 140.01 447.20 C141.01 447.76 142.01 448.30 143.01 448.84 C144.01 449.38 145.01 449.90 146.01 450.43 C147.01 450.96 148.01 451.48 149.01 452.02 C150.01 452.55 151.01 453.08 152.01 453.64 C153.01 454.19 154.01 454.75 155.01 455.33 C156.01 455.91 157.01 456.51 158.01 457.13 C159.01 457.76 160.01 458.40 161.01 459.06 C162.01 459.72 163.01 460.40 164.01 461.09 C165.01 461.78 166.01 462.48 167.01 463.19 C168.01 463.90 169.01 464.62 170.01 465.34 C171.01 466.06 172.01 466.78 173.01 467.51 C174.01 468.23 175.01 468.96 176.01 469.69 C177.01 470.42 178.01 471.15 179.01 471.87 C180.01 472.60 181.01 473.33 182.01 474.06 C183.01 474.78 184.01 475.51 185.01 476.22 C186.01 476.94 187.01 477.66 188.01 478.37 C189.01 479.08 190.01 479.79 191.01 480.48 C192.01 481.18 193.01 481.87 194.01 482.56 C195.01 483.24 196.01 483.92 197.01 484.58 C198.01 485.24 199.01 485.90 200.01 486.55 C201.01 487.19 202.01 487.82 203.01 488.45 C204.01 489.07 205.01 489.68 206.01 490.28 C207.01 490.88 208.01 491.47 209.01 492.05 C210.01 492.62 211.01 493.19 212.01 493.74 C213.01 494.29 214.01 494.83 215.01 495.35 C216.01 495.87 217.01 496.38 218.01 496.88 C219.01 497.38 220.01 497.86 221.01 498.32 C222.01 498.79 223.01 499.24 224.01 499.69 C225.01 500.13 226.01 500.56 227.01 501.00 C228.01 501.43 229.01 501.85 230.01 502.29 C231.01 502.72 232.01 503.16 233.01 503.61 C234.01 504.06 235.01 504.51 236.01 504.98 C237.01 505.46 238.01 505.95 239.01 506.46 C240.01 506.97 241.01 507.50 242.01 508.07 C243.01 508.64 244.01 509.22 245.01 509.85 C246.01 510.48 247.01 511.14 248.01 511.85 C249.01 512.55 250.01 513.30 251.01 514.08 C252.01 514.87 253.01 515.69 254.01 516.54 C255.01 517.39 256.01 518.27 257.01 519.15 C258.01 520.04 259.01 520.96 260.01 521.87 C261.01 522.78 262.01 523.70 263.01 524.62 C264.01 525.53 265.01 526.45 266.01 527.34 C267.01 528.23 268.01 529.12 269.01 529.98 C270.01 530.83 271.01 531.68 272.01 532.47 C273.01 533.27 274.01 534.04 275.01 534.76 C276.01 535.47 277.01 536.15 278.01 536.78 C279.01 537.40 280.01 537.97 281.01 538.53 C282.01 539.08 283.01 539.59 284.01 540.11 C285.01 540.63 286.01 541.12 287.01 541.63 C288.01 542.14 289.01 542.65 290.01 543.19 C291.01 543.74 292.01 544.29 293.01 544.90 C294.01 545.51 295.01 546.16 296.01 546.84 C297.01 547.52 298.01 548.24 299.01 548.98 C300.01 549.72 301.01 550.49 302.01 551.28 C303.01 552.06 304.01 552.87 305.01 553.69 C306.01 554.50 307.01 555.33 308.01 556.16 C309.01 556.99 310.01 557.83 311.01 558.66 C312.01 559.49 313.01 560.32 314.01 561.14 C315.01 561.96 316.01 562.77 317.01 563.56 C318.01 564.35 319.01 565.14 320.01 565.89 C321.01 566.64 322.01 567.38 323.01 568.08 C324.01 568.78 325.01 569.46 326.01 570.09 C327.01 570.73 328.01 571.33 329.01 571.89 C330.01 572.45 331.01 572.96 332.01 573.44 C333.01 573.92 334.01 574.36 335.01 574.77 C336.01 575.17 337.01 575.54 338.01 575.89 C339.01 576.24 340.01 576.55 341.01 576.84 C342.01 577.14 343.01 577.40 344.01 577.65 C345.01 577.90 346.01 578.13 347.01 578.35 C348.01 578.57 349.01 578.76 350.01 578.96 C351.01 579.15 352.01 579.33 353.01 579.51 C354.01 579.69 355.01 579.86 356.01 580.03 C357.01 580.20 358.01 580.37 359.01 580.55 C360.01 580.73 361.01 580.91 362.01 581.10 C363.01 581.29 364.01 581.49 365.01 581.71 C366.01 581.92 367.01 582.15 368.01 582.40 C369.01 582.64 370.01 582.91 371.01 583.20 C372.01 583.49 373.01 583.80 374.01 584.14 C375.01 584.49 376.01 584.85 377.01 585.26 C378.01 585.66 379.01 586.10 380.01 586.57 C381.01 587.05 382.01 587.55 383.01 588.11 C384.01 588.67 385.01 589.27 386.01 589.90 C387.01 590.54 388.01 591.23 389.01 591.95 C390.01 592.66 391.01 593.41 392.01 594.18 C393.01 594.94 394.01 595.74 395.01 596.53 C396.01 597.33 397.01 598.14 398.01 598.95 C399.01 599.75 400.01 600.57 401.01 601.36 C402.01 602.15 403.01 602.95 404.01 603.70 C405.01 604.46 406.01 605.21 407.01 605.92 C408.01 606.62 409.01 607.30 410.01 607.93 C411.01 608.56 412.01 609.15 413.01 609.68 C414.01 610.22 415.01 610.69 416.01 611.15 C417.01 611.62 418.01 612.03 419.01 612.49 C420.01 612.94 421.01 613.37 422.01 613.86 C423.01 614.36 424.01 614.88 425.01 615.48 C426.01 616.08 427.01 616.74 428.01 617.46 C429.01 618.18 430.01 618.97 431.01 619.79 C432.01 620.60 433.01 621.48 434.01 622.37 C435.01 623.26 436.01 624.19 437.01 625.12 C438.01 626.05 439.01 627.02 440.01 627.97 C441.01 628.92 442.01 629.88 443.01 630.82 C444.01 631.75 445.01 632.69 446.01 633.58 C447.01 634.47 448.01 635.35 449.01 636.17 C450.01 636.99 451.01 637.78 452.01 638.49 C453.01 639.21 454.01 639.87 455.01 640.48 C456.01 641.08 457.01 641.62 458.01 642.13 C459.01 642.65 460.01 643.11 461.01 643.55 C462.01 644.00 463.01 644.41 464.01 644.82 C465.01 645.23 466.01 645.62 467.01 646.02 C468.01 646.43 469.01 646.82 470.01 647.23 C471.01 647.65 472.01 648.06 473.01 648.51 C474.01 648.96 475.01 649.43 476.01 649.93 C477.01 650.44 478.01 650.97 479.01 651.55 C480.01 652.14 481.01 652.77 482.01 653.44 C483.01 654.11 484.01 654.85 485.01 655.58 C486.01 656.31 487.01 657.08 488.01 657.82 C489.01 658.56 490.01 659.32 491.01 660.02 C492.01 660.72 493.01 661.40 494.01 662.02 C495.01 662.64 496.01 663.21 497.01 663.74 C498.01 664.26 499.01 664.73 500.01 665.16 C501.01 665.59 502.01 665.97 503.01 666.30 C504.01 666.63 505.01 666.92 506.01 667.16 C507.01 667.40 508.01 667.59 509.01 667.74 C510.01 667.89 511.01 667.99 512.01 668.06 C513.01 668.12 514.01 668.13 515.01 668.11 C516.01 668.08 517.01 668.01 518.01 667.90 C519.01 667.79 520.01 667.64 521.01 667.45 C522.01 667.25 523.01 667.01 524.01 666.75 C525.01 666.49 526.01 666.19 527.01 665.88 C528.01 665.57 529.01 665.23 530.01 664.89 C531.01 664.56 532.01 664.20 533.01 663.86 C534.01 663.52 535.01 663.17 536.01 662.84 C537.01 662.52 538.01 662.20 539.01 661.91 C540.01 661.63 541.01 661.35 542.01 661.13 C543.01 660.91 544.01 660.71 545.01 660.57 C546.01 660.42 547.01 660.33 548.01 660.26 C549.01 660.19 550.01 660.17 551.01 660.17 C552.01 660.16 553.01 660.19 554.01 660.22 C555.01 660.24 556.01 660.30 557.01 660.34 C558.01 660.38 559.01 660.43 560.01 660.46 C561.01 660.49 562.01 660.52 563.01 660.52 C564.01 660.51 565.01 660.50 566.01 660.44 C567.01 660.37 568.01 660.29 569.01 660.15 C570.01 660.00 571.01 659.83 572.01 659.58 C573.01 659.33 574.01 659.02 575.01 658.67 C576.01 658.32 577.01 657.91 578.01 657.48 C579.01 657.06 580.01 656.58 581.01 656.13 C582.01 655.67 583.01 655.19 584.01 654.74 C585.01 654.29 586.01 653.83 587.01 653.43 C588.01 653.04 589.01 652.66 590.01 652.34 C591.01 652.03 592.01 651.76 593.01 651.52 C594.01 651.28 595.01 651.09 596.01 650.91 C597.01 650.73 598.01 650.59 599.01 650.45 C600.01 650.30 601.01 650.18 602.01 650.06 C603.01 649.94 604.01 649.83 605.01 649.72 C606.01 649.61 607.01 649.51 608.01 649.41 C609.01 649.31 610.01 649.21 611.01 649.12 C612.01 649.03 613.01 648.95 614.01 648.86 C615.01 648.78 616.01 648.70 617.01 648.63 C618.01 648.55 619.01 648.47 620.01 648.40 C621.01 648.33 622.01 648.26 623.01 648.19 C624.01 648.12 625.01 648.05 626.01 647.98 C627.01 647.91 628.01 647.84 629.01 647.78 C630.01 647.71 631.01 647.64 632.01 647.57 C633.01 647.50 634.01 647.44 635.01 647.37 C636.01 647.31 637.01 647.25 638.01 647.19 C639.01 647.14 640.01 647.08 641.01 647.04 C642.01 646.99 643.01 646.95 644.01 646.92 C645.01 646.88 646.01 646.85 647.01 646.84 C648.01 646.82 649.01 646.81 650.01 646.81 C651.01 646.81 652.01 646.82 653.01 646.84 C654.01 646.87 655.01 646.90 656.01 646.95 C657.01 647.00 658.01 647.06 659.01 647.13 C660.01 647.21 661.01 647.29 662.01 647.40 C663.01 647.50 664.01 647.62 665.01 647.76 C666.01 647.90 667.01 648.06 668.01 648.23 C669.01 648.40 670.01 648.60 671.01 648.81 C672.01 649.02 673.01 649.25 674.01 649.51 C675.01 649.76 676.01 650.03 677.01 650.33 C678.01 650.63 679.01 650.95 680.01 651.29 C681.01 651.64 682.01 652.01 683.01 652.40 C684.01 652.78 685.01 653.20 686.01 653.62 C687.01 654.04 688.01 654.48 689.01 654.91 C690.01 655.35 691.01 655.80 692.01 656.24 C693.01 656.68 694.01 657.12 695.01 657.55 C696.01 657.98 697.01 658.40 698.01 658.80 C699.01 659.21 700.01 659.60 701.01 659.96 C702.01 660.32 703.01 660.66 704.01 660.96 C705.01 661.27 706.01 661.55 707.01 661.78 C708.01 662.01 709.01 662.21 710.01 662.37 C711.01 662.52 712.01 662.63 713.01 662.71 C714.01 662.79 715.01 662.83 716.01 662.84 C717.01 662.86 718.01 662.85 719.01 662.83 C720.01 662.80 721.01 662.75 722.01 662.69 C723.01 662.64 724.01 662.56 725.01 662.49 C726.01 662.42 727.01 662.34 728.01 662.27 C729.01 662.20 730.01 662.12 731.01 662.07 C732.01 662.01 733.01 661.96 734.01 661.93 C735.01 661.91 736.01 661.90 737.01 661.91 C738.01 661.93 739.01 661.97 740.01 662.03 C741.01 662.09 742.01 662.18 743.01 662.27 C744.01 662.36 745.01 662.48 746.01 662.59 C747.01 662.70 748.01 662.83 749.01 662.95 C750.01 663.06 751.01 663.19 752.01 663.30 C753.01 663.42 754.01 663.53 755.01 663.62 C756.01 663.72 757.01 663.81 758.01 663.87 C759.01 663.93 760.01 663.98 761.01 664.00 C762.01 664.01 763.01 664.01 764.01 663.98 C765.01 663.95 766.01 663.89 767.01 663.82 C768.01 663.74 769.01 663.64 770.01 663.53 C771.01 663.41 772.01 663.27 773.01 663.12 C774.01 662.97 775.01 662.79 776.01 662.61 C777.01 662.42 778.01 662.22 779.01 662.00 C780.01 661.79 781.01 661.55 782.01 661.31 C783.01 661.07 784.01 660.82 785.01 660.56 C786.01 660.30 787.01 660.02 788.01 659.75 C789.01 659.47 790.01 659.18 791.01 658.89 C792.01 658.60 793.01 658.30 794.01 657.99 C795.01 657.69 796.01 657.38 797.01 657.06 C798.01 656.74 799.01 656.42 800.01 656.09 C801.01 655.76 802.01 655.43 803.01 655.09 C804.01 654.75 805.01 654.41 806.01 654.06 C807.01 653.71 808.01 653.35 809.01 652.99 C810.01 652.63 811.01 652.27 812.01 651.90 C813.01 651.53 814.01 651.16 815.01 650.78 C816.01 650.40 817.01 650.02 818.01 649.63 C819.01 649.25 820.01 648.86 821.01 648.47 C822.01 648.08 823.01 647.68 824.01 647.28 C825.01 646.88 826.01 646.48 827.01 646.08 C828.01 645.68 829.01 645.27 830.01 644.87 C831.01 644.46 832.01 644.05 833.01 643.65 C834.01 643.24 835.01 642.83 836.01 642.42 C837.01 642.01 838.01 641.60 839.01 641.20 C840.01 640.79 841.01 640.38 842.01 639.97 C843.01 639.57 844.01 639.16 845.01 638.76 C846.01 638.36 847.01 637.96 848.01 637.56 C849.01 637.16 850.01 636.76 851.01 636.37 C852.01 635.97 853.01 635.58 854.01 635.20 C855.01 634.81 856.01 634.43 857.01 634.05 C858.01 633.67 859.01 633.29 860.01 632.93 C861.01 632.56 862.01 632.19 863.01 631.83 C864.01 631.47 865.01 631.12 866.01 630.77 C867.01 630.43 868.01 630.08 869.01 629.75 C870.01 629.42 871.01 629.08 872.01 628.78 C873.01 628.48 874.01 628.18 875.01 627.93 C876.01 627.67 877.01 627.44 878.01 627.26 C879.01 627.09 880.01 626.94 881.01 626.87 C882.01 626.79 883.01 626.77 884.01 626.82 C885.01 626.87 886.01 627.00 887.01 627.17 C888.01 627.34 889.01 627.60 890.01 627.84 C891.01 628.09 892.01 628.39 893.01 628.65 C894.01 628.91 895.01 629.18 896.01 629.39 C897.01 629.60 898.01 629.79 899.01 629.91 C900.01 630.02 901.01 630.08 902.01 630.07 C903.01 630.05 904.01 629.98 905.01 629.81 C906.01 629.65 907.01 629.41 908.01 629.07 C909.01 628.74 910.01 628.29 911.01 627.79 C912.01 627.29 913.01 626.68 914.01 626.06 C915.01 625.44 916.01 624.74 917.01 624.06 C918.01 623.38 919.01 622.66 920.01 621.99 C921.01 621.31 922.01 620.64 923.01 620.01 C924.01 619.38 925.01 618.78 926.01 618.20 C927.01 617.62 928.01 617.06 929.01 616.53 C930.01 616.00 931.01 615.49 932.01 615.00 C933.01 614.51 934.01 614.04 935.01 613.59 C936.01 613.13 937.01 612.70 938.01 612.28 C939.01 611.86 940.01 611.46 941.01 611.07 C942.01 610.68 943.01 610.31 944.01 609.94 C945.01 609.57 946.01 609.22 947.01 608.88 C948.01 608.53 949.01 608.20 950.01 607.87 C951.01 607.53 952.01 607.21 953.01 606.89 C954.01 606.57 955.01 606.26 956.01 605.95 C957.01 605.64 958.01 605.33 959.01 605.02 C960.01 604.70 961.01 604.39 962.01 604.08 C963.01 603.77 964.01 603.45 965.01 603.13 C966.01 602.81 967.06 602.47 968.01 602.15 C968.96 601.84 970.25 601.39 970.70 601.24" fill="none" stroke="#00ff00" stroke-width="7.8" stroke-linejoin="round" stroke-linecap="butt"/>
<line x1="224.40" y1="71.30" x2="224.40" y2="719.50" stroke="#ff0000" stroke-width="5.1" stroke-dasharray="16.1 15.55"/>
<line x1="247.80" y1="71.30" x2="247.80" y2="719.50" stroke="#000000" stroke-width="5.1" stroke-dasharray="16.1 15.55"/>
<line x1="306.60" y1="71.30" x2="306.60" y2="719.50" stroke="#0000ff" stroke-width="5.1" stroke-dasharray="16.1 15.55"/>
<line x1="406.50" y1="71.30" x2="406.50" y2="719.50" stroke="#00ff00" stroke-width="5.1" stroke-dasharray="16.1 15.55"/>
<g stroke="#262626" stroke-width="1.5" fill="none" stroke-linecap="butt">
<rect x="113.00" y="67.00" width="857.20" height="652.50"/>
<line x1="199.00" y1="719.50" x2="199.00" y2="728.50"/>
<line x1="199.00" y1="67.00" x2="199.00" y2="58.00"/>
<line x1="316.50" y1="719.50" x2="316.50" y2="728.50"/>
<line x1="316.50" y1="67.00" x2="316.50" y2="58.00"/>
<line x1="438.00" y1="719.50" x2="438.00" y2="728.50"/>
<line x1="438.00" y1="67.00" x2="438.00" y2="58.00"/>
<line x1="559.40" y1="719.50" x2="559.40" y2="728.50"/>
<line x1="559.40" y1="67.00" x2="559.40" y2="58.00"/>
<line x1="677.00" y1="719.50" x2="677.00" y2="728.50"/>
<line x1="677.00" y1="67.00" x2="677.00" y2="58.00"/>
<line x1="798.50" y1="719.50" x2="798.50" y2="728.50"/>
<line x1="798.50" y1="67.00" x2="798.50" y2="58.00"/>
<line x1="916.00" y1="719.50" x2="916.00" y2="728.50"/>
<line x1="916.00" y1="67.00" x2="916.00" y2="58.00"/>
<line x1="103.40" y1="719.50" x2="113.00" y2="719.50"/>
<line x1="970.20" y1="719.50" x2="979.80" y2="719.50"/>
<line x1="103.40" y1="556.38" x2="113.00" y2="556.38"/>
<line x1="970.20" y1="556.38" x2="979.80" y2="556.38"/>
<line x1="103.40" y1="393.25" x2="113.00" y2="393.25"/>
<line x1="970.20" y1="393.25" x2="979.80" y2="393.25"/>
<line x1="103.40" y1="230.12" x2="113.00" y2="230.12"/>
<line x1="970.20" y1="230.12" x2="979.80" y2="230.12"/>
<line x1="103.40" y1="67.00" x2="113.00" y2="67.00"/>
<line x1="970.20" y1="67.00" x2="979.80" y2="67.00"/>
</g>
<text x="275.00" y="49.20" font-size="41.30" fill="#000" font-weight="bold" textLength="194.04" lengthAdjust="spacingAndGlyphs" stroke="#000" stroke-width="0.9" stroke-linejoin="round">Forecast</text>
<text x="484.50" y="49.20" font-size="41.30" fill="#000" font-weight="bold" textLength="44.04" lengthAdjust="spacingAndGlyphs" stroke="#000" stroke-width="0.9" stroke-linejoin="round">at</text>
<text x="544.00" y="49.20" font-size="41.30" fill="#000" font-weight="bold" textLength="137.20" lengthAdjust="spacingAndGlyphs" stroke="#000" stroke-width="0.9" stroke-linejoin="round">NH10,</text>
<text x="698.00" y="49.20" font-size="41.30" fill="#000" font-weight="bold" textLength="108.10" lengthAdjust="spacingAndGlyphs" stroke="#000" stroke-width="0.9" stroke-linejoin="round">2022</text>
<text x="438.00" y="826.20" font-size="42.00" fill="#262626" textLength="92.05" lengthAdjust="spacingAndGlyphs">Year</text>
<text x="542.00" y="826.20" font-size="42.00" fill="#262626" textLength="100.23" lengthAdjust="spacingAndGlyphs">2022</text>
<text transform="translate(50.50,610.50) rotate(-90)" font-size="42.00" fill="#262626" textLength="146.32" lengthAdjust="spacingAndGlyphs">Bottom</text>
<text transform="translate(50.50,450.00) rotate(-90)" font-size="42.00" fill="#262626" textLength="153.66" lengthAdjust="spacingAndGlyphs">Oxygen</text>
<text transform="translate(50.50,283.00) rotate(-90)" font-size="42.00" fill="#262626" textLength="105.40" lengthAdjust="spacingAndGlyphs">(ml/l)</text>
<text x="167.00" y="775.80" font-size="37.50" fill="#262626" textLength="60.24" lengthAdjust="spacingAndGlyphs">Jun</text>
<text x="291.00" y="775.80" font-size="37.50" fill="#262626" textLength="46.23" lengthAdjust="spacingAndGlyphs">Jul</text>
<text x="401.00" y="775.80" font-size="37.50" fill="#262626" textLength="72.14" lengthAdjust="spacingAndGlyphs">Aug</text>
<text x="523.50" y="775.80" font-size="37.50" fill="#262626" textLength="69.22" lengthAdjust="spacingAndGlyphs">Sep</text>
<text x="645.00" y="775.80" font-size="37.50" fill="#262626" textLength="63.07" lengthAdjust="spacingAndGlyphs">Oct</text>
<text x="760.50" y="775.80" font-size="37.50" fill="#262626" textLength="71.21" lengthAdjust="spacingAndGlyphs">Nov</text>
<text x="880.00" y="775.80" font-size="37.50" fill="#262626" textLength="70.26" lengthAdjust="spacingAndGlyphs">Dec</text>
<text x="69.00" y="732.90" font-size="38.50" fill="#262626" textLength="21.82" lengthAdjust="spacingAndGlyphs">0</text>
<text x="68.00" y="569.77" font-size="38.50" fill="#262626" textLength="23.18" lengthAdjust="spacingAndGlyphs">2</text>
<text x="69.00" y="406.65" font-size="38.50" fill="#262626" textLength="21.69" lengthAdjust="spacingAndGlyphs">4</text>
<text x="68.00" y="243.53" font-size="38.50" fill="#262626" textLength="23.18" lengthAdjust="spacingAndGlyphs">6</text>
<text x="68.00" y="80.40" font-size="38.50" fill="#262626" textLength="23.03" lengthAdjust="spacingAndGlyphs">8</text>
<defs>
<clipPath id="lgc"><circle cx="562.9" cy="155.3" r="67.9"/></clipPath>
<filter id="lgb1" filterUnits="userSpaceOnUse" x="460" y="50" width="210" height="210"><feGaussianBlur stdDeviation="9"/></filter>
<filter id="lgb2" filterUnits="userSpaceOnUse" x="460" y="50" width="210" height="210"><feGaussianBlur stdDeviation="3"/></filter>
<filter id="lgb3" filterUnits="userSpaceOnUse" x="460" y="50" width="210" height="210"><feGaussianBlur stdDeviation="0.9"/></filter>
<filter id="lgb4" filterUnits="userSpaceOnUse" x="460" y="50" width="210" height="210"><feGaussianBlur stdDeviation="0.5"/></filter>
<linearGradient id="lgfish" x1="0" y1="0" x2="0" y2="1"><stop offset="0" stop-color="#b4ccde"/><stop offset="0.45" stop-color="#86a9c8"/><stop offset="1" stop-color="#4f7cae"/></linearGradient>
</defs>
<g clip-path="url(#lgc)">
<rect x="490" y="82" width="146" height="146" fill="#3e7ccb"/>
<g filter="url(#lgb1)">
<rect x="470" y="60" width="100" height="78" fill="#6ed0dc"/>
<rect x="570" y="60" width="100" height="78" fill="#4c94d6"/>
<ellipse cx="522" cy="112" rx="36" ry="34" fill="#86dfe2"/>
<ellipse cx="540" cy="100" rx="18" ry="22" fill="#9be6e6"/>
<ellipse cx="586" cy="112" rx="18" ry="24" fill="#62b0dc"/>
<ellipse cx="622" cy="116" rx="20" ry="28" fill="#3572cc"/>
<ellipse cx="500" cy="152" rx="20" ry="20" fill="#379ab8"/>
<ellipse cx="556" cy="150" rx="30" ry="18" fill="#55a2d4"/>
<ellipse cx="626" cy="160" rx="26" ry="34" fill="#2855c4"/>
<ellipse cx="606" cy="200" rx="30" ry="22" fill="#2d5ec4"/>
<ellipse cx="520" cy="186" rx="26" ry="16" fill="#4a8cd2"/>
<ellipse cx="560" cy="196" rx="26" ry="12" fill="#3f7fcc"/>
</g>
<g filter="url(#lgb2)">
<polygon points="555,84 567,84 566,146 550,146" fill="#c6f0f2" opacity="0.75"/>
<polygon points="572,84 580,84 604,130 592,134" fill="#a8dcf0" opacity="0.4"/>
<polygon points="528,86 536,84 516,132 504,130" fill="#b8eeee" opacity="0.35"/>
<rect x="500" y="206" width="110" height="7" fill="#2c6a9c" opacity="0.8"/>
<ellipse cx="556" cy="217.5" rx="34" ry="3.6" fill="#72b8a2" opacity="0.95"/>
<rect x="500" y="221" width="110" height="8" fill="#3f94a0" opacity="0.9"/>
</g>
<g filter="url(#lgb4)"><line x1="511.5" y1="116.2" x2="516.5" y2="117.8" stroke="#3b97a8" stroke-width="1.3" stroke-linecap="round" opacity="0.55"/><line x1="517.0" y1="118.4" x2="521.0" y2="119.6" stroke="#3b97a8" stroke-width="1.3" stroke-linecap="round" opacity="0.55"/><line x1="531.8" y1="99.6" x2="534.2" y2="100.4" stroke="#3b97a8" stroke-width="1.3" stroke-linecap="round" opacity="0.55"/><line x1="536.8" y1="103.6" x2="539.2" y2="104.4" stroke="#3b97a8" stroke-width="1.3" stroke-linecap="round" opacity="0.55"/><line x1="544.0" y1="96.7" x2="546.0" y2="97.3" stroke="#3b97a8" stroke-width="1.3" stroke-linecap="round" opacity="0.55"/><line x1="539.8" y1="109.6" x2="542.2" y2="110.4" stroke="#3b97a8" stroke-width="1.3" stroke-linecap="round" opacity="0.55"/><line x1="548.0" y1="111.7" x2="550.0" y2="112.3" stroke="#3b97a8" stroke-width="1.3" stroke-linecap="round" opacity="0.55"/><line x1="529.0" y1="111.7" x2="531.0" y2="112.3" stroke="#3b97a8" stroke-width="1.3" stroke-linecap="round" opacity="0.55"/><line x1="524.8" y1="126.6" x2="527.2" y2="127.4" stroke="#3b97a8" stroke-width="1.3" stroke-linecap="round" opacity="0.55"/><line x1="536.0" y1="121.7" x2="538.0" y2="122.3" stroke="#3b97a8" stroke-width="1.3" stroke-linecap="round" opacity="0.55"/><line x1="545.0" y1="125.7" x2="547.0" y2="126.3" stroke="#3b97a8" stroke-width="1.3" stroke-linecap="round" opacity="0.55"/><line x1="552.0" y1="103.7" x2="554.0" y2="104.3" stroke="#3b97a8" stroke-width="1.3" stroke-linecap="round" opacity="0.55"/><line x1="559.0" y1="120.7" x2="561.0" y2="121.3" stroke="#3b97a8" stroke-width="1.3" stroke-linecap="round" opacity="0.55"/><line x1="565.0" y1="129.7" x2="567.0" y2="130.3" stroke="#3b97a8" stroke-width="1.3" stroke-linecap="round" opacity="0.55"/><line x1="520.0" y1="133.7" x2="522.0" y2="134.3" stroke="#3b97a8" stroke-width="1.3" stroke-linecap="round" opacity="0.55"/><line x1="533.0" y1="135.7" x2="535.0" y2="136.3" stroke="#3b97a8" stroke-width="1.3" stroke-linecap="round" opacity="0.55"/><line x1="571.0" y1="98.7" x2="573.0" y2="99.3" stroke="#3b97a8" stroke-width="1.3" stroke-linecap="round" opacity="0.55"/><line x1="576.1" y1="92.7" x2="577.9" y2="93.3" stroke="#3b97a8" stroke-width="1.3" stroke-linecap="round" opacity="0.55"/><line x1="550.1" y1="91.7" x2="551.9" y2="92.3" stroke="#3b97a8" stroke-width="1.3" stroke-linecap="round" opacity="0.55"/><circle cx="594.4" cy="118.0" r="0.7" fill="#a8d4f0" opacity="0.24"/><circle cx="587.7" cy="135.3" r="1.1" fill="#a8d4f0" opacity="0.40"/><circle cx="615.6" cy="124.9" r="0.8" fill="#a8d4f0" opacity="0.27"/><circle cx="591.9" cy="118.2" r="0.6" fill="#a8d4f0" opacity="0.43"/><circle cx="618.2" cy="158.8" r="1.0" fill="#a8d4f0" opacity="0.25"/><circle cx="597.4" cy="148.4" r="0.9" fill="#a8d4f0" opacity="0.41"/><circle cx="620.2" cy="117.0" r="0.9" fill="#a8d4f0" opacity="0.37"/><circle cx="605.2" cy="122.3" r="0.8" fill="#a8d4f0" opacity="0.22"/><circle cx="622.4" cy="162.2" r="0.8" fill="#a8d4f0" opacity="0.28"/><circle cx="621.4" cy="145.2" r="1.0" fill="#a8d4f0" opacity="0.41"/><circle cx="605.3" cy="136.0" r="0.9" fill="#a8d4f0" opacity="0.31"/><circle cx="591.5" cy="129.7" r="1.0" fill="#a8d4f0" opacity="0.21"/><circle cx="586.9" cy="148.3" r="0.7" fill="#a8d4f0" opacity="0.33"/><circle cx="603.8" cy="131.9" r="1.1" fill="#a8d4f0" opacity="0.25"/><circle cx="601.5" cy="123.8" r="0.9" fill="#a8d4f0" opacity="0.27"/><circle cx="599.2" cy="155.3" r="0.7" fill="#a8d4f0" opacity="0.34"/><circle cx="621.2" cy="117.9" r="0.5" fill="#a8d4f0" opacity="0.26"/><circle cx="615.6" cy="147.7" r="0.6" fill="#a8d4f0" opacity="0.28"/><circle cx="592.1" cy="138.6" r="0.5" fill="#a8d4f0" opacity="0.37"/><circle cx="620.8" cy="167.4" r="0.9" fill="#a8d4f0" opacity="0.44"/><circle cx="585.7" cy="128.8" r="1.1" fill="#a8d4f0" opacity="0.39"/><circle cx="601.4" cy="166.7" r="0.9" fill="#a8d4f0" opacity="0.40"/><circle cx="596.7" cy="123.1" r="0.8" fill="#a8d4f0" opacity="0.23"/><circle cx="600.3" cy="167.8" r="0.7" fill="#a8d4f0" opacity="0.20"/><circle cx="586.8" cy="121.8" r="1.0" fill="#a8d4f0" opacity="0.29"/><circle cx="596.6" cy="117.6" r="1.1" fill="#a8d4f0" opacity="0.31"/><circle cx="593.3" cy="115.4" r="0.5" fill="#a8d4f0" opacity="0.24"/><circle cx="612.1" cy="120.7" r="0.5" fill="#a8d4f0" opacity="0.32"/><circle cx="595.0" cy="169.9" r="0.6" fill="#a8d4f0" opacity="0.33"/><circle cx="616.0" cy="135.7" r="1.1" fill="#a8d4f0" opacity="0.32"/><circle cx="594.7" cy="135.8" r="0.5" fill="#a8d4f0" opacity="0.31"/><circle cx="594.9" cy="163.6" r="1.0" fill="#a8d4f0" opacity="0.32"/><circle cx="586.3" cy="126.8" r="0.6" fill="#a8d4f0" opacity="0.25"/><circle cx="594.3" cy="162.4" r="0.6" fill="#a8d4f0" opacity="0.21"/><circle cx="622.1" cy="144.8" r="1.1" fill="#a8d4f0" opacity="0.30"/><circle cx="621.0" cy="149.9" r="1.0" fill="#a8d4f0" opacity="0.39"/><circle cx="604.8" cy="117.4" r="0.6" fill="#a8d4f0" opacity="0.42"/><circle cx="621.0" cy="165.6" r="0.7" fill="#a8d4f0" opacity="0.36"/><circle cx="617.0" cy="149.3" r="1.0" fill="#a8d4f0" opacity="0.33"/><circle cx="611.2" cy="151.8" r="0.7" fill="#a8d4f0" opacity="0.43"/><ellipse cx="626.3" cy="169.3" rx="2.6" ry="1.3" fill="#5f94d8" opacity="0.4"/><ellipse cx="626.9" cy="184.4" rx="2.6" ry="1.3" fill="#5f94d8" opacity="0.4"/><ellipse cx="615.4" cy="168.8" rx="2.6" ry="1.3" fill="#5f94d8" opacity="0.4"/><ellipse cx="624.2" cy="170.2" rx="2.6" ry="1.3" fill="#5f94d8" opacity="0.4"/><ellipse cx="626.8" cy="179.3" rx="2.6" ry="1.3" fill="#5f94d8" opacity="0.4"/><ellipse cx="592.3" cy="170.8" rx="2.6" ry="1.3" fill="#5f94d8" opacity="0.4"/><ellipse cx="614.1" cy="177.7" rx="2.6" ry="1.3" fill="#5f94d8" opacity="0.4"/><ellipse cx="618.4" cy="183.8" rx="2.6" ry="1.3" fill="#5f94d8" opacity="0.4"/><ellipse cx="598.3" cy="168.1" rx="2.6" ry="1.3" fill="#5f94d8" opacity="0.4"/><ellipse cx="625.0" cy="168.2" rx="2.6" ry="1.3" fill="#5f94d8" opacity="0.4"/><ellipse cx="623.3" cy="170.0" rx="2.6" ry="1.3" fill="#5f94d8" opacity="0.4"/><ellipse cx="620.8" cy="181.3" rx="2.6" ry="1.3" fill="#5f94d8" opacity="0.4"/><ellipse cx="623.4" cy="177.4" rx="2.6" ry="1.3" fill="#5f94d8" opacity="0.4"/><ellipse cx="623.4" cy="171.4" rx="2.6" ry="1.3" fill="#5f94d8" opacity="0.4"/><ellipse cx="615.5" cy="173.6" rx="2.6" ry="1.3" fill="#5f94d8" opacity="0.4"/><ellipse cx="623.9" cy="181.2" rx="2.6" ry="1.3" fill="#5f94d8" opacity="0.4"/></g>
<g filter="url(#lgb3)">
<path d="M538.5 181.5 C543 177.5 552 176 560 176.8 C568 177.6 576 181 583 183.5 L594.5 180 L590 186.5 L592 194 L583.5 188 C577 190.5 568 191.5 560 190.5 C550 189.3 542 186 538.5 181.5 Z" fill="url(#lgfish)"/>
<path d="M552.5 176.6 L558 174.4 L561 177 Z M568.5 178.6 L575.5 175.8 L575 181 Z" fill="#b6cee0"/>
<path d="M539.5 181.3 C545 178 553 177 560 177.6 C568 178.4 576 181.6 583 184" fill="none" stroke="#cfe0ec" stroke-width="0.9" opacity="0.9"/>
<path d="M600 196.5 C604 194.2 610 194.6 615 197.6 L619.5 196.4 L618.5 200.4 C612 202 604.5 200.6 600 196.5 Z" fill="#5878a4"/>
<path d="M600.5 196.3 C604 194.4 610 194.8 615 197.6" fill="none" stroke="#b4cce0" stroke-width="0.8"/>
<ellipse cx="526" cy="194" rx="8" ry="2.4" fill="#86b2d8" opacity="0.45"/>
<ellipse cx="550" cy="196.5" rx="9" ry="2.4" fill="#9cc0dc" opacity="0.5"/>
<ellipse cx="512" cy="185" rx="7" ry="2" fill="#8fbadc" opacity="0.3"/>
</g>
</g>

<text x="504.50" y="165.00" font-size="30.00" fill="#ffffff" textLength="120.03" lengthAdjust="spacingAndGlyphs" stroke="#ffffff" stroke-width="0.5">J-SCOPE</text>
<rect x="652.2" y="89" width="296.6" height="167.6" fill="#fff" stroke="#262626" stroke-width="1.5"/>
<line x1="659.8" y1="112.60" x2="737.9" y2="112.60" stroke="#0000ff" stroke-width="7.7"/>
<line x1="659.8" y1="153.00" x2="737.9" y2="153.00" stroke="#ff0000" stroke-width="7.7"/>
<line x1="659.8" y1="192.80" x2="737.9" y2="192.80" stroke="#000000" stroke-width="7.7"/>
<line x1="659.8" y1="233.60" x2="737.9" y2="233.60" stroke="#00ff00" stroke-width="7.7"/>
<text x="744.00" y="124.00" font-size="33.50" fill="#000" textLength="64.37" lengthAdjust="spacingAndGlyphs">Run</text>
<text x="820.00" y="124.00" font-size="33.50" fill="#000" textLength="18.80" lengthAdjust="spacingAndGlyphs">1</text>
<text x="744.00" y="164.40" font-size="33.50" fill="#000" textLength="64.37" lengthAdjust="spacingAndGlyphs">Run</text>
<text x="820.00" y="164.40" font-size="33.50" fill="#000" textLength="18.51" lengthAdjust="spacingAndGlyphs">2</text>
<text x="744.00" y="204.80" font-size="33.50" fill="#000" textLength="64.37" lengthAdjust="spacingAndGlyphs">Run</text>
<text x="820.50" y="204.80" font-size="33.50" fill="#000" textLength="18.03" lengthAdjust="spacingAndGlyphs">3</text>
<text x="744.00" y="245.00" font-size="33.50" fill="#000" textLength="194.53" lengthAdjust="spacingAndGlyphs">Climatology</text>
</g></svg>
</body></html>
